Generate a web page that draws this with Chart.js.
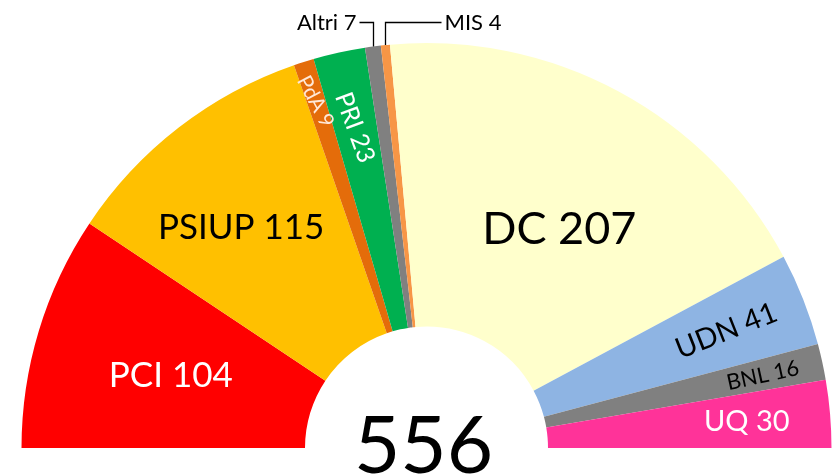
<!DOCTYPE html>
<html>
<head>
<meta charset="utf-8">
<script src="https://cdn.jsdelivr.net/npm/chart.js@4/dist/chart.umd.min.js"></script>
<style>
  html, body { margin: 0; padding: 0; background: #ffffff; }
  #wrap { width: 836px; height: 476px; position: relative; }
</style>
</head>
<body>
<div id="wrap"><canvas id="c"></canvas></div>
<script>
// ---- data ----
const parties = ['PCI', 'PSIUP', 'PdA', 'PRI', 'Altri', 'MIS', 'DC', 'UDN', 'BNL', 'UQ'];
const seats = [104, 115, 9, 23, 7, 4, 207, 41, 16, 30];
const colors = ['#FF0000', '#FFC000', '#E46C0A', '#00B050', '#808080', '#F79646', '#FFFFCC', '#8EB4E3', '#808080', '#FF3399'];
const totalSeats = seats.reduce((a, b) => a + b, 0);

// ---- label styling (not data) ----
const FONT = 'Lato, "Open Sans", sans-serif';
const labelStyle = {
  PCI:   { t: 0.51,  dAng: -0.8, size: 35, color: '#ffffff', rot: 'h' },
  PSIUP: { t: 0.59,  dAng: -2.2, size: 35, color: '#000000', rot: 'h' },
  PdA:   { t: 0.855, dAng: 0,    size: 21, color: '#FFE8D8', rot: 62 },
  PRI:   { t: 0.73,  dAng: 0,    size: 25, color: '#ffffff', rot: 70 },
  DC:    { t: 0.478, dAng: 2.8,  size: 45, color: '#000000', rot: 'h' },
  UDN:   { t: 0.707, dAng: 0,    size: 29, color: '#000000', rot: 'radial' },
  BNL:   { t: 0.785, dAng: 0,    size: 22, color: '#000000', rot: 'radial' },
  UQ:    { t: 0.705, dAng: 0,    size: 29, color: '#ffffff', rot: 'h' }
};
const calloutStyle = {
  Altri: { side: -1, lineY: 22.5, run: 14, size: 22 },
  MIS:   { side: 1,  lineY: 22.5, run: 56, size: 22 }
};

const labelsPlugin = {
  id: 'seatLabels',
  afterDatasetsDraw(chart) {
    const ctx = chart.ctx;
    const meta = chart.getDatasetMeta(0);
    let cx = 0, cy = 0;
    meta.data.forEach((arc, i) => {
      const p = arc.getProps(['x', 'y', 'startAngle', 'endAngle', 'innerRadius', 'outerRadius'], true);
      cx = p.x; cy = p.y;
      const name = parties[i];
      const text = name + ' ' + seats[i];
      const mid = (p.startAngle + p.endAngle) / 2;
      const st = labelStyle[name];
      if (st) {
        const ang = mid + st.dAng * Math.PI / 180;
        const r = p.innerRadius + st.t * (p.outerRadius - p.innerRadius);
        const x = p.x + r * Math.cos(ang);
        const y = p.y + r * Math.sin(ang);
        ctx.save();
        ctx.translate(x, y);
        if (st.rot === 'radial') {
          ctx.rotate(Math.cos(mid) > 0 ? mid : mid + Math.PI);
        } else if (typeof st.rot === 'number') {
          ctx.rotate(st.rot * Math.PI / 180);
        }
        ctx.font = st.size + 'px ' + FONT;
        ctx.fillStyle = st.color;
        ctx.textAlign = 'center';
        ctx.textBaseline = 'alphabetic';
        ctx.fillText(text, 0, st.size * 0.36);
        ctx.restore();
      }
      const co = calloutStyle[name];
      if (co) {
        const x0 = Math.round(p.x + p.outerRadius * Math.cos(mid)) + 0.5;
        const y0 = p.y + p.outerRadius * Math.sin(mid);
        const x1 = x0 + co.side * co.run;
        ctx.save();
        ctx.strokeStyle = '#000000';
        ctx.lineWidth = 1.3;
        ctx.beginPath();
        ctx.moveTo(x0, y0);
        ctx.lineTo(x0, co.lineY);
        ctx.lineTo(x1, co.lineY);
        ctx.stroke();
        ctx.font = co.size + 'px ' + FONT;
        ctx.fillStyle = '#000000';
        ctx.textBaseline = 'alphabetic';
        ctx.textAlign = co.side < 0 ? 'right' : 'left';
        ctx.fillText(text, x1 + co.side * 3, co.lineY + co.size * 0.36);
        ctx.restore();
      }
    });
    // total in the centre
    ctx.save();
    ctx.font = '80px ' + FONT;
    ctx.fillStyle = '#000000';
    ctx.textAlign = 'center';
    ctx.textBaseline = 'alphabetic';
    ctx.fillText(String(totalSeats), cx - 3, cy + 25);
    ctx.restore();
  }
};

new Chart(document.getElementById('c'), {
  type: 'doughnut',
  data: {
    labels: parties,
    datasets: [{
      data: seats,
      backgroundColor: colors,
      borderWidth: 0,
      hoverOffset: 0,
      offset: 0
    }]
  },
  options: {
    responsive: true,
    maintainAspectRatio: false,
    animation: false,
    rotation: -90,
    circumference: 180,
    cutout: '30%',
    layout: { padding: { left: 21, right: 4, top: 43, bottom: 28 } },
    plugins: {
      legend: { display: false },
      tooltip: { enabled: false }
    }
  },
  plugins: [labelsPlugin]
});
</script>
</body>
</html>
